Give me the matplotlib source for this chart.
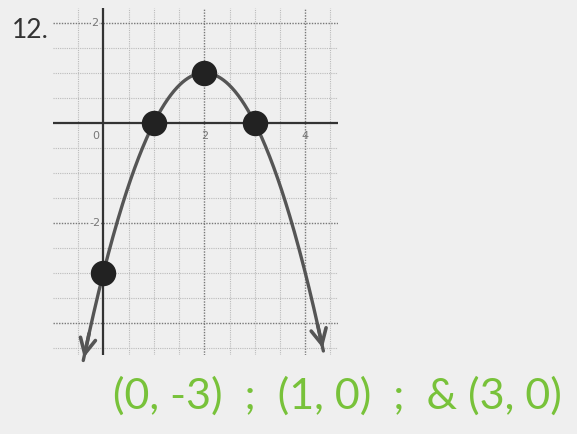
import numpy as np
import matplotlib
matplotlib.use('Agg')
import matplotlib.pyplot as plt

# parabola y = a(x - h)^2 + k and the plotted points
a, h, k = -1.0, 2.0, 1.0
point_x = [0, 1, 2, 3]
point_y = [-3, 0, 1, 0]
curve_x_range = [-0.4, 4.36]

x_tick_labels = [0, 2, 4]
y_tick_labels = [2, -2]
answer_text = "(0, -3)  ;  (1, 0)  ;  & (3, 0)"

paper = '#efefef'

fig = plt.figure(figsize=(5.77, 4.34), dpi=100)
fig.patch.set_facecolor(paper)

ax = fig.add_axes([53 / 577, 1 - 355 / 434, 285 / 577, 347 / 434])
ax.set_facecolor(paper)
ax.set_xlim(-1, 4.65)
ax.set_ylim(-4.65, 2.3)
for s in ax.spines.values():
    s.set_visible(False)
ax.set_xticks([])
ax.set_yticks([])

# dotted grid: light lines every half unit, darker every two units
for gx in np.arange(-0.5, 4.6, 0.5):
    dark = gx in (2.0, 4.0)
    ax.axvline(gx, color='#777' if dark else '#bbb', lw=1.0 if dark else 0.8,
               ls=(0, (1, 1)), zorder=1)
for gy in np.arange(-4.5, 2.1, 0.5):
    dark = gy in (2.0, -2.0, -4.0)
    ax.axhline(gy, color='#777' if dark else '#bbb', lw=1.0 if dark else 0.8,
               ls=(0, (1, 1)), zorder=1)

# axes
ax.axhline(0, color='#333', lw=1.6, zorder=2)
ax.axvline(0, color='#333', lw=1.6, zorder=2)

# tick labels
for t in x_tick_labels:
    ax.text(t - 0.15 if t == 0 else t, -0.27, str(t), ha='center', va='center',
            fontsize=8, color='#777', zorder=3)
for t in y_tick_labels:
    ax.text(-0.17, t, str(t), ha='center', va='center', fontsize=8, color='#777',
            zorder=3, bbox=dict(boxstyle='square,pad=0.05', fc=paper, ec='none'))

# curve with arrowheads at both ends
xs = np.linspace(curve_x_range[0], curve_x_range[1], 300)
ys = a * (xs - h) ** 2 + k
ax.plot(xs, ys, color='#555', lw=2.4, solid_capstyle='round', zorder=4, clip_on=False)
for i0, i1 in [(8, 0), (-9, -1)]:
    ax.annotate('', xy=(xs[i1], ys[i1]), xytext=(xs[i0], ys[i0]),
                arrowprops=dict(arrowstyle='->,head_length=1.1,head_width=0.55',
                                color='#555', lw=2.6),
                zorder=4, annotation_clip=False)

ax.scatter(point_x, point_y, s=300, color='#222', zorder=5, clip_on=False)

fig.text(30 / 577, 1 - 30 / 434, '12.', ha='center', va='center', fontsize=19,
         color='#333', family='Lato')
fig.text(337 / 577, 1 - 396 / 434, answer_text, ha='center', va='center',
         fontsize=31, color='#78c23a', family='Lato')

fig.savefig('out.png', dpi=100, facecolor=paper)
